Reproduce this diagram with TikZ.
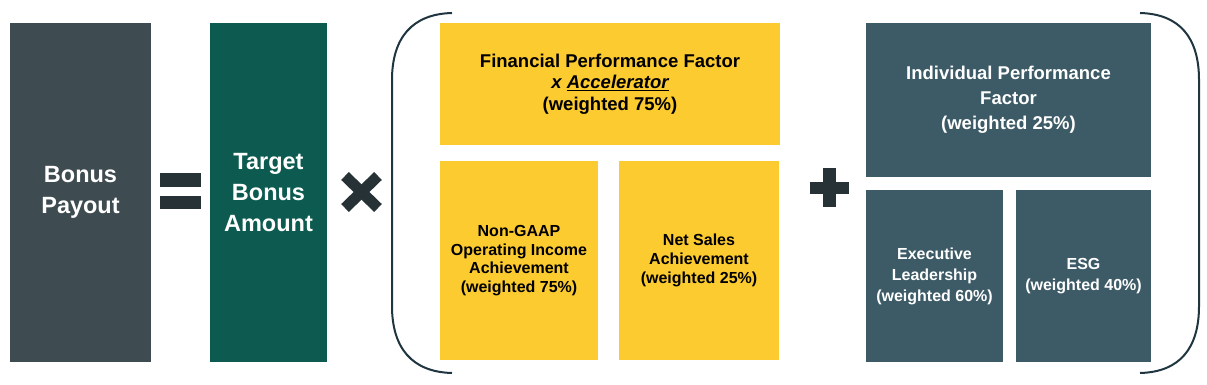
\documentclass[tikz,border=0pt]{standalone}
\usepackage{fontspec}
\setmainfont{Liberation Sans}
\usetikzlibrary{positioning}

\definecolor{payoutgray}{HTML}{3E4B51}
\definecolor{targetgreen}{HTML}{0D5B50}
\definecolor{finyellow}{HTML}{FCCB2F}
\definecolor{indslate}{HTML}{3D5B67}
\definecolor{opdark}{HTML}{263236}
\definecolor{brackdark}{HTML}{1F3540}

\begin{document}
\begin{tikzpicture}[
    x=1pt, y=-1pt,
    block/.style={rectangle, inner sep=0pt, align=center, font=\bfseries},
    bigblock/.style={block, text=white, font=\fontsize{23.5}{31}\selectfont\bfseries},
    fin/.style={block, fill=finyellow, text=black},
    ind/.style={block, fill=indslate, text=white},
    opbar/.style={fill=opdark},
    bracket/.style={draw=brackdark, line width=2pt}
]
\useasboundingbox (0,0) rectangle (1207,385);

% Bonus = Target
\node[bigblock, fill=payoutgray, minimum width=141pt, minimum height=339pt] (payout) at (80.5,192.5) {Bonus\\Payout};
\node[bigblock, fill=targetgreen, minimum width=117pt, minimum height=339pt] (target) at (268.5,192.5) {Target\\Bonus\\Amount};

% Operatoren
\fill[opbar] (160,173) rectangle (201,187);
\fill[opbar] (160,196) rectangle (201,209);
\draw[opdark, line width=11pt] (345,176) -- (378,208);
\draw[opdark, line width=11pt] (345,208) -- (378,176);
\fill[opbar] (810,182) rectangle (849,194);
\fill[opbar] (823,168) rectangle (836,207);

% Klammern
\draw[bracket] (452,13) .. controls (412,14) and (392,38) .. (392,80) -- (392,306) .. controls (392,348) and (412,372) .. (452,373);
\draw[bracket] (1140,13) .. controls (1180,14) and (1199,38) .. (1199,80) -- (1199,306) .. controls (1199,348) and (1180,372) .. (1140,373);

% Financial
\node[fin, minimum width=340pt, minimum height=122pt, font=\fontsize{18.5}{21.5}\selectfont\bfseries] (financial) at (610,84) {Financial Performance Factor\\\textit{x \underline{Accelerator}}\\(weighted 75\%)};
\node[fin, minimum width=158pt, minimum height=199pt, font=\fontsize{16}{18.7}\selectfont\bfseries] (nongaap) at (519,260.5) {Non-GAAP\\Operating Income\\Achievement\\(weighted 75\%)};
\node[fin, minimum width=160pt, minimum height=199pt, font=\fontsize{16}{18.7}\selectfont\bfseries] (netsales) at (699,260.5) {Net Sales\\Achievement\\(weighted 25\%)};

% Individual
\node[ind, minimum width=285pt, minimum height=154pt, font=\fontsize{18.5}{25}\selectfont\bfseries] (individual) at (1008.5,100) {Individual Performance\\Factor\\(weighted 25\%)};
\node[ind, minimum width=137pt, minimum height=172pt, font=\fontsize{16}{21}\selectfont\bfseries] (executive) at (934.5,276) {Executive\\Leadership\\(weighted 60\%)};
\node[ind, minimum width=135pt, minimum height=172pt, font=\fontsize{16}{21}\selectfont\bfseries] (esg) at (1083.5,276) {ESG\\(weighted 40\%)};
\end{tikzpicture}
\end{document}
